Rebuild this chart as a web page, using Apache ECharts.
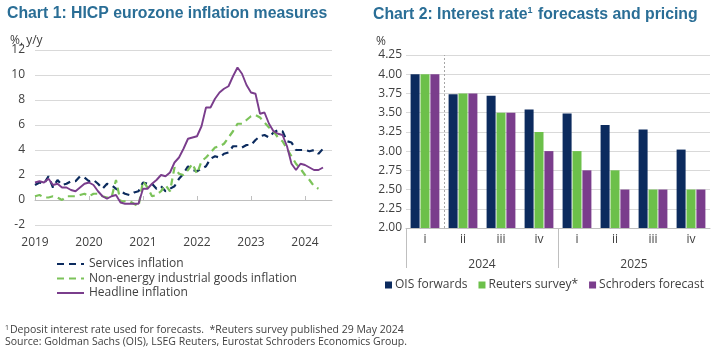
<!DOCTYPE html>
<html><head><meta charset="utf-8">
<script src="https://cdn.jsdelivr.net/npm/echarts@6/dist/echarts.min.js"></script>
<style>html,body{margin:0;padding:0;background:#fff}#c{width:720px;height:347px}</style>
</head><body><div id="c"></div><script>
// ---- Chart 1: monthly HICP measures, Jan 2019 onwards ----
const monthCats = [];
for (let y = 2019; y <= 2024; y++) for (let m = 1; m <= 12; m++) monthCats.push(y + '-' + String(m).padStart(2, '0'));
monthCats.length = 67; // axis runs to Jul 2024

const services = [1.2,1.4,1.3,1.9,1.0,1.6,1.2,1.3,1.5,1.5,1.9,1.8,
  1.5,1.6,1.3,0.9,1.3,1.2,0.9,0.7,0.5,0.4,0.6,0.7,
  1.4,1.3,1.3,0.9,1.1,0.7,0.9,1.1,1.7,2.1,2.7,2.4,
  2.3,2.5,2.7,3.3,3.5,3.4,3.7,3.8,4.3,4.3,4.2,4.4,
  4.4,4.8,5.1,5.2,5.0,5.4,5.6,5.5,4.7,4.6,4.0,4.0,
  4.0,3.9,4.0,3.7,4.1];
const neig = [0.3,0.4,0.2,0.2,0.3,0.2,0.0,0.3,0.3,0.3,0.4,0.5,
  0.3,0.5,0.5,0.3,0.2,0.2,1.6,-0.1,-0.1,-0.1,-0.3,-0.5,
  1.5,1.0,0.3,0.4,0.7,1.2,0.7,2.6,2.1,2.0,2.4,2.9,
  2.1,3.1,3.4,3.8,4.2,4.3,4.5,5.0,5.5,6.1,6.1,6.4,
  6.7,6.8,6.6,6.2,5.8,5.5,5.0,4.7,4.1,3.5,2.9,2.5,
  2.0,1.6,1.1,0.9];
const headline = [1.4,1.5,1.4,1.7,1.2,1.3,1.0,1.0,0.8,0.7,1.0,1.3,
  1.4,1.2,0.7,0.3,0.1,0.3,0.4,-0.2,-0.3,-0.3,-0.3,-0.3,
  0.9,0.9,1.3,1.6,2.0,1.9,2.2,3.0,3.4,4.1,4.9,5.0,
  5.1,5.9,7.4,7.4,8.1,8.6,8.9,9.1,9.9,10.6,10.1,9.2,
  8.6,8.5,6.9,7.0,6.1,5.5,5.3,5.2,4.3,2.9,2.4,2.9,
  2.8,2.6,2.4,2.4,2.6];
const yTicks1 = { min: -2, max: 12, interval: 2 };

// ---- Chart 2: policy rate paths by quarter ----
const years = ['2024', '2025'];
const quarters = ['i', 'ii', 'iii', 'iv'];
const quarterCats = [];
years.forEach(y => quarters.forEach(q => quarterCats.push(y + ' ' + q)));
const oisForwards = [4.00, 3.74, 3.72, 3.54, 3.49, 3.34, 3.28, 3.02];
const reutersSurvey = [4.00, 3.75, 3.50, 3.25, 3.00, 2.75, 2.50, 2.50];
const schrodersForecast = [4.00, 3.75, 3.50, 3.00, 2.75, 2.50, 2.50, 2.50];
const yTicks2 = { min: 2, max: 4.25, interval: 0.25 };
const nowMarker = 0.5; // boundary between the data quarter and the forecast quarters

const NAVY = '#0c2b5e', GREEN = '#6cc04a', LGREEN = '#7cc35a', PURPLE = '#7a3d8c';
const TITLE = '#2a6e96', TXT = '#404040', GRID = '#d9d9d9', AXIS = '#bfbfbf';
const FONT = '"Open Sans", "Noto Sans", sans-serif';
const TFONT = '"Liberation Sans", Arial, sans-serif';

const chart = echarts.init(document.getElementById('c'), null, { renderer: 'canvas' });
chart.setOption({
  animation: false,
  textStyle: { fontFamily: FONT, color: TXT },
  grid: [
    { left: 35, top: 50, width: 297, height: 175 },
    { left: 406, top: 55, width: 304, height: 173 },
    { left: 406, top: 228, width: 304, height: 40 }
  ],
  xAxis: [
    { gridIndex: 0, type: 'category', data: monthCats, boundaryGap: false,
      axisLine: { show: false, onZero: false }, axisTick: { show: false },
      axisLabel: { interval: i => i % 12 === 0, formatter: v => v.slice(0, 4), fontSize: 12, color: TXT, margin: 12 } },
    { gridIndex: 0, type: 'category', data: monthCats, boundaryGap: false,
      axisLine: { show: true, onZero: true, lineStyle: { color: AXIS, width: 1 } },
      axisTick: { show: true, interval: i => i % 12 === 0, length: 4, lineStyle: { color: AXIS } },
      axisLabel: { show: false } },
    { gridIndex: 1, type: 'category', data: quarterCats,
      axisLine: { show: true, lineStyle: { color: AXIS } }, axisTick: { show: false },
      axisLabel: { formatter: v => v.split(' ')[1], fontSize: 12, color: TXT, margin: 6 } },
    { gridIndex: 2, type: 'category', data: years, position: 'bottom',
      axisLine: { show: false }, axisTick: { show: false },
      splitLine: { show: true, showMaxLine: false, lineStyle: { color: AXIS } },
      axisLabel: { inside: true, fontSize: 12, color: TXT, margin: -3 } },
    // quarter positions as plain numbers, used for the dotted divider
    { gridIndex: 1, type: 'value', min: -0.5, max: quarterCats.length - 0.5, show: false }
  ],
  yAxis: [
    { gridIndex: 0, type: 'value', ...yTicks1,
      axisLine: { show: false }, axisTick: { show: false },
      splitLine: { lineStyle: { color: GRID } },
      axisLabel: { fontSize: 12, color: TXT, margin: 10 } },
    { gridIndex: 1, type: 'value', ...yTicks2,
      axisLine: { show: false }, axisTick: { show: false },
      splitLine: { lineStyle: { color: GRID } },
      axisLabel: { fontSize: 12, color: TXT, margin: 4, formatter: v => v.toFixed(2) } },
    { gridIndex: 2, type: 'value', show: false }
  ],
  legend: [
    { orient: 'vertical', left: 51, top: 253, itemWidth: 27, itemHeight: 10, itemGap: 2.5,
      itemStyle: { opacity: 0 },
      textStyle: { fontSize: 12, color: TXT, fontFamily: FONT },
      data: ['Services inflation', 'Non-energy industrial goods inflation', 'Headline inflation'] },
    { orient: 'horizontal', left: 380, top: 274, itemWidth: 7, itemHeight: 7, itemGap: 11, icon: 'rect',
      textStyle: { fontSize: 12, color: TXT, fontFamily: FONT, padding: [0, 0, 0, -2] },
      data: ['OIS forwards', 'Reuters survey*', 'Schroders forecast'] }
  ],
  series: [
    { name: 'Services inflation', type: 'line', xAxisIndex: 0, yAxisIndex: 0, data: services,
      symbol: 'none', color: NAVY, lineStyle: { color: NAVY, width: 2.2, type: [7, 5] } },
    { name: 'Non-energy industrial goods inflation', type: 'line', xAxisIndex: 0, yAxisIndex: 0, data: neig,
      symbol: 'none', color: LGREEN, lineStyle: { color: LGREEN, width: 2.2, type: [7, 5] } },
    { name: 'Headline inflation', type: 'line', xAxisIndex: 0, yAxisIndex: 0, data: headline,
      symbol: 'none', color: PURPLE, lineStyle: { color: PURPLE, width: 1.9 } },
    { name: 'OIS forwards', type: 'bar', xAxisIndex: 2, yAxisIndex: 1, data: oisForwards,
      color: NAVY, barWidth: 9, barGap: '10%' },
    { name: 'Reuters survey*', type: 'bar', xAxisIndex: 2, yAxisIndex: 1, data: reutersSurvey,
      color: GREEN, barWidth: 9, barGap: '10%' },
    { name: 'Schroders forecast', type: 'bar', xAxisIndex: 2, yAxisIndex: 1, data: schrodersForecast,
      color: PURPLE, barWidth: 9, barGap: '10%' },
    { type: 'line', xAxisIndex: 4, yAxisIndex: 1, data: [], silent: true,
      markLine: { silent: true, symbol: 'none', label: { show: false },
        lineStyle: { color: '#a6a6a6', type: [2, 2], width: 1 }, data: [{ xAxis: nowMarker }] } }
  ],
  graphic: [
    { type: 'text', left: 7, top: 6, style: { text: 'Chart 1: HICP eurozone inflation measures',
      font: 'bold 15.8px ' + TFONT, fill: TITLE } },
    { type: 'text', left: 373, top: 6, style: { text: 'Chart 2: Interest rate{sup|1} forecasts and pricing',
      font: 'bold 15.8px ' + TFONT, fill: TITLE,
      rich: { sup: { font: 'bold 9px ' + TFONT, fill: TITLE, verticalAlign: 'top', padding: [0, 1, 8, 0] } } } },
    { type: 'text', left: 10, top: 35, style: { text: '%, y/y', font: '12px ' + FONT, fill: TXT } },
    { type: 'text', left: 376, top: 36, style: { text: '%', font: '12px ' + FONT, fill: TXT } },
    { type: 'text', left: 5, top: 324, style: { text: '{sup|1}Deposit interest rate used for forecasts.  *Reuters survey published 29 May 2024',
      font: '10.5px ' + FONT, fill: TXT,
      rich: { sup: { font: '7px ' + FONT, fill: TXT, padding: [0, 1, 6, 0] } } } },
    { type: 'text', left: 5, top: 337, style: { text: 'Source: Goldman Sachs (OIS), LSEG Reuters, Eurostat Schroders Economics Group.',
      font: '10.5px ' + FONT, fill: TXT } }
  ]
});
</script></body></html>
